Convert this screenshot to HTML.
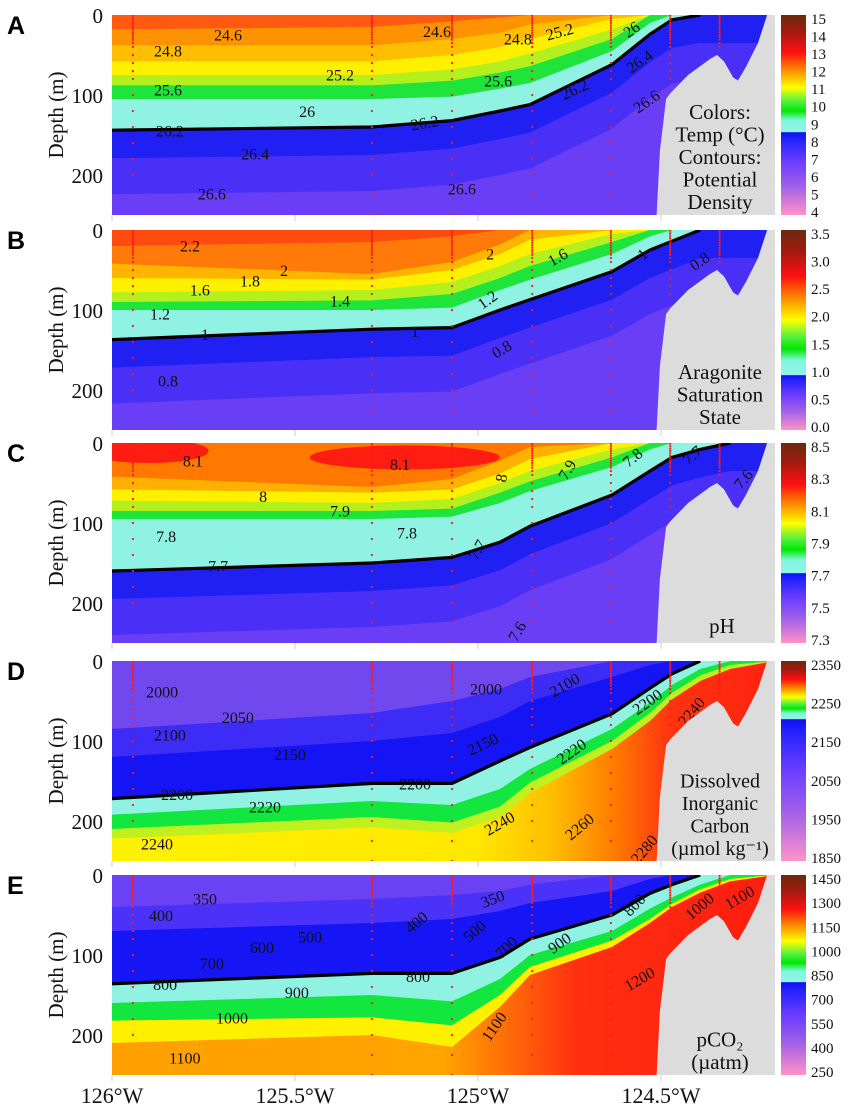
<!DOCTYPE html>
<html><head><meta charset="utf-8">
<style>
html,body{margin:0;padding:0;background:#fff;}
svg{display:block;}
text{font-family:"Liberation Serif",serif;}
</style></head>
<body>
<svg id="chart" width="850" height="1114" viewBox="0 0 850 1114" xmlns="http://www.w3.org/2000/svg">
<defs>
<linearGradient id="deepD" gradientUnits="userSpaceOnUse" x1="112" y1="0" x2="775" y2="0">
<stop offset="0" stop-color="#fff200"/><stop offset="0.55" stop-color="#ffe800"/><stop offset="0.66" stop-color="#ffc000"/><stop offset="0.76" stop-color="#ff7a00"/><stop offset="0.84" stop-color="#ff3410"/><stop offset="1" stop-color="#ff2210"/>
</linearGradient>
<linearGradient id="deepE" gradientUnits="userSpaceOnUse" x1="112" y1="0" x2="775" y2="0">
<stop offset="0" stop-color="#ffa000"/><stop offset="0.5" stop-color="#ffa400"/><stop offset="0.6" stop-color="#ff6a08"/><stop offset="0.7" stop-color="#ff3010"/><stop offset="1" stop-color="#ff1c10"/>
</linearGradient>
</defs>
</svg>
<script>
// ---- data ----
const panelTops=[15,230,443,661,875];
const panelLetters=['A','B','C','D','E'];
const gridLons=[126.000,125.290,125.071,124.940,124.858,124.634,124.530,124.470,124.393,124.311,124.189];
const stationLons=[125.943,125.290,125.071,124.852,124.637,124.475,124.340];
const stationMaxDepth=[200,255,255,225,225,100,40];
const sampleDepths=[1,4,7,10,13,16,19,22,25,28,31,35,40,50,60,70,80,100,120,140,160,180,200,225,250,255];
const xTickLons=[126,125.5,125,124.5];
const xTickLabels=['126°W','125.5°W','125°W','124.5°W'];
const depthTicks=[0,100,200];
const landLons=[124.513,124.503,124.486,124.475,124.426,124.366,124.347,124.328,124.303,124.290,124.268,124.235,124.210,124.150,124.150];
const landDepths=[260,170,105,98,75,55,50,58,78,82,65,35,0,-5,260];

// Panel A: temperature / density
const lineA=[144,140,132,120,112,62,24,6,0,0,0];
const greenA=[105,105,102,92,85,45,10,0,0,0,0];
const ygA=[88,88,82,72,64,30,0,0,0,0,0];
const yelA=[75,75,68,58,48,18,0,0,0,0,0];
const oyA=[58,58,50,40,30,5,0,0,0,0,0];
const orA=[38,38,30,22,12,0,0,0,0,0,0];
const roA=[18,15,8,3,0,0,0,0,0,0,0];
// Panel B: aragonite
const lineB=[137,124,122,100,87,52,25,14,0,0,0];
const greenB=[100,100,97,75,62,30,8,0,0,0,0];
const ygB=[90,88,80,60,45,15,0,0,0,0,0];
const yelB=[78,75,65,45,30,5,0,0,0,0,0];
const oyB=[60,62,50,30,12,0,0,0,0,0,0];
const orB=[42,55,40,18,0,0,0,0,0,0,0];
const roB=[20,15,8,0,0,0,0,0,0,0,0];
// Panel C: pH
const lineC=[160,150,143,124,104,65,35,18,8,0,0];
const greenC=[95,95,92,75,60,30,8,0,0,0,0];
const ygC=[85,85,82,62,48,18,0,0,0,0,0];
const yelC=[72,75,70,50,35,8,0,0,0,0,0];
const oyC=[58,62,58,38,20,0,0,0,0,0,0];
const orC=[42,55,45,22,5,0,0,0,0,0,0];
const redPatchLons=[125.90,125.20];
const redPatchDepths=[10,18];
// Panel D: DIC
const lineD=[172,153,153,125,108,66,34,16,0,0,0];
const midD=[120,100,90,70,50,20,5,0,0,0,0];
const topD=[85,65,50,35,20,0,0,0,0,0,0];
const cyanD=[192,175,180,160,135,85,52,30,10,0,0];
const greenD=[210,195,202,182,152,100,65,40,18,5,0];
const ygD=[222,208,215,195,165,110,75,48,25,10,0];
// Panel E: pCO2
const lineE=[136,123,123,103,80,50,23,12,0,0,0];
const midE=[70,60,55,45,35,20,5,0,0,0,0];
const topE=[40,30,25,20,12,0,0,0,0,0,0];
const cyanE=[160,150,158,130,100,70,42,28,12,0,0];
const greenE=[182,178,188,150,115,82,55,36,18,5,0];
const yelE=[210,200,215,165,125,90,60,40,22,8,0];

// Colorbars
const cbTicksA=['15','14','13','12','11','10','9','8','7','6','5','4'];
const cbTicksB=['3.5','3.0','2.5','2.0','1.5','1.0','0.5','0.0'];
const cbTicksC=['8.5','8.3','8.1','7.9','7.7','7.5','7.3'];
const cbTicksD=['2350','2250','2150','2050','1950','1850'];
const cbTicksE=['1450','1300','1150','1000','850','700','550','400','250'];
const cbBreaks=[0.585,0.725,0.65,0.29,0.535];

// Contour labels [lon, depth, text, angle]
const labelsA=[[125.683,26,'24.6',0],[125.847,46,'24.8',0],[125.847,95,'25.6',0],[125.842,146,'26.2',0],[125.609,175,'26.4',0],[125.727,225,'26.6',0],[125.112,22,'24.6',0],[125.377,76,'25.2',0],[124.891,31,'24.8',0],[124.776,22,'25.2',-15],[125.467,122,'26',0],[124.945,84,'25.6',0],[125.145,136,'26.2',-10],[124.735,94,'26.2',-25],[124.579,19,'26',-35],[124.557,59,'26.4',-35],[124.538,109,'26.6',-35],[125.044,219,'26.6',0]];
const labelsB=[[125.787,21,'2.2',0],[125.530,52,'2',0],[125.623,65,'1.8',0],[125.760,76,'1.6',0],[125.869,106,'1.2',0],[125.377,90,'1.4',0],[125.746,132,'1',0],[125.172,128,'1',0],[124.967,31,'2',0],[124.781,35,'1.6',-30],[124.973,88,'1.2',-35],[124.934,150,'0.8',-30],[125.847,190,'0.8',0],[124.549,31,'1',-40],[124.393,40,'0.8',-35]];
const labelsC=[[125.779,24,'8.1',0],[125.213,28,'8.1',0],[125.587,68,'8',0],[125.377,86,'7.9',0],[125.852,118,'7.8',0],[125.194,114,'7.8',0],[125.710,155,'7.7',0],[125.000,134,'7.7',-60],[124.934,44,'8',-80],[124.754,34,'7.9',-60],[124.576,19,'7.8',-40],[124.413,16,'7.7',-40],[124.273,46,'7.6',-50],[124.891,236,'7.6',-60]];
const labelsD=[[125.863,40,'2000',0],[125.656,72,'2050',0],[125.842,94,'2100',0],[125.514,118,'2150',0],[124.978,36,'2000',0],[124.762,31,'2100',-30],[124.536,52,'2200',-35],[124.415,64,'2240',-50],[124.986,105,'2150',-25],[124.743,114,'2220',-35],[125.822,168,'2200',0],[125.172,155,'2200',0],[125.582,184,'2220',0],[125.877,230,'2240',0],[124.940,204,'2240',-30],[124.721,208,'2260',-40],[124.544,236,'2280',-50]];
const labelsE=[[125.746,31,'350',0],[125.866,52,'400',0],[125.459,79,'500',0],[125.590,92,'600',0],[125.727,112,'700',0],[125.855,138,'800',0],[125.164,128,'800',0],[125.495,148,'900',0],[125.672,180,'1000',0],[125.801,230,'1100',0],[125.167,60,'400',-40],[124.959,31,'350',-20],[125.008,71,'500',-40],[124.921,91,'700',-45],[124.776,86,'900',-35],[124.571,38,'800',-45],[124.393,40,'1000',-40],[124.284,29,'1100',-30],[124.954,190,'1100',-55],[124.557,131,'1200',-30]];

const landTextA=['Colors:','Temp (°C)','Contours:','Potential','Density'];
const landTextB=['Aragonite','Saturation','State'];
const landTextC=['pH'];
const landTextD=['Dissolved','Inorganic','Carbon','(µmol kg⁻¹)'];
const landTextE=['pCO₂','(µatm)'];

// ---- drawing ----
const NS='http://www.w3.org/2000/svg';
const svg=document.getElementById('chart');
const defs=svg.querySelector('defs');
function mk(tag,attrs,parent){const e=document.createElementNS(NS,tag);for(const k in attrs)e.setAttribute(k,attrs[k]);(parent||svg).appendChild(e);return e;}
function xs(lon){return 112+(126-lon)*366;}
function ys(p,d){return panelTops[p]+d*0.8;}
function fwd(p,arr){return gridLons.map((l,i)=>xs(l).toFixed(1)+','+ys(p,Math.max(arr[i],-5)).toFixed(1));}
function surfacePoly(p,arr){const pts=fwd(p,arr);return pts.join(' ')+' '+xs(gridLons[gridLons.length-1])+','+ys(p,-5)+' '+xs(gridLons[0])+','+ys(p,-5);}
function bandPoly(p,upper,lower){return fwd(p,upper).join(' ')+' '+fwd(p,lower).reverse().join(' ');}

const warmStops=[[0,'#6b2a0e'],[0.15,'#a41a10'],[0.32,'#ff1010'],[0.47,'#ff8a00'],[0.62,'#ffff00'],[0.74,'#50f040'],[0.82,'#00e800'],[0.9,'#80f6de'],[1,'#92f4e8']];
const coolStops=[[0,'#1010f0'],[0.08,'#2222ff'],[0.35,'#6a3cff'],[0.65,'#a060e8'],[1,'#ff92c8']];

const allLabels=[labelsA,labelsB,labelsC,labelsD,labelsE];
const allLines=[lineA,lineB,lineC,lineD,lineE];
const allCbTicks=[cbTicksA,cbTicksB,cbTicksC,cbTicksD,cbTicksE];
const allLandText=[landTextA,landTextB,landTextC,landTextD,landTextE];
const upperSets=[
 [[lineA,'#8ff2e2'],[greenA,'#1ee43c'],[ygA,'#b4f01e'],[yelA,'#fff000'],[oyA,'#ffbe00'],[orA,'#ff9200'],[roA,'#ff5a12']],
 [[lineB,'#8ff2e2'],[greenB,'#1ee43c'],[ygB,'#b4f01e'],[yelB,'#fff000'],[oyB,'#ffb400'],[orB,'#ff7a08'],[roB,'#ff4a10']],
 [[lineC,'#8ff2e2'],[greenC,'#1ee43c'],[ygC,'#b4f01e'],[yelC,'#fff000'],[oyC,'#ffb000'],[orC,'#ff7800']],
 [[lineD,'#1414f4'],[midD,'#3c2cf6'],[topD,'#7048ee']],
 [[lineE,'#1515f5'],[midE,'#4a32f8'],[topE,'#6a42f4']]
];
const lowerSets=[null,null,null,
 [[ygD,'#c0f020'],[greenD,'#14e640'],[cyanD,'#8ff2e2']],
 [[yelE,'#fff000'],[greenE,'#14e640'],[cyanE,'#8ff2e2']]
];

for(let p=0;p<5;p++){
  const top=panelTops[p];
  const g=mk('g',{});
  
  
  const cp=mk('clipPath',{id:'clip'+p},defs);
  mk('rect',{x:112,y:top,width:663,height:200},cp);
  const plot=mk('g',{'clip-path':'url(#clip'+p+')'},g);
  
  
  if(p<3){
    const base=mk('rect',{x:112,y:top,width:663,height:200,fill:'#6a3ef4'},plot);
    
    
    const ln=allLines[p];
    const b2=mk('polygon',{points:bandPoly(p,ln,ln.map(d=>d+80)),fill:'#4a30f6'},plot);
    
    
    const b3=mk('polygon',{points:bandPoly(p,ln,ln.map(d=>d+35)),fill:'#2020f2'},plot);
    
    
  } else {
    const base=mk('rect',{x:112,y:top,width:663,height:200,fill:p===3?'url(#deepD)':'url(#deepE)'},plot);
    
    
    lowerSets[p].forEach(([arr,col])=>{
      const b=mk('polygon',{points:bandPoly(p,allLines[p],arr),fill:col},plot);
      
      
    });
  }
  upperSets[p].forEach(([arr,col])=>{
    const b=mk('polygon',{points:surfacePoly(p,arr),fill:col},plot);
    
    
  });
  if(p===2){
    redPatchLons.forEach((l,i)=>{
      const e=mk('ellipse',{cx:xs(l),cy:ys(p,redPatchDepths[i]),rx:i===0?60:95,ry:12,fill:'#ff1c10'},plot);
      
      
    });
  }
  const ln=allLines[p];let pts=[];
  for(let i=0;i<ln.length;i++){pts.push(xs(gridLons[i]).toFixed(1)+','+ys(p,ln[i]).toFixed(1));if(ln[i]<=0)break;}
  const bl=mk('polyline',{points:pts.join(' '),fill:'none',stroke:'#000','stroke-width':3.2,'stroke-linejoin':'round'},plot);
  
  
  stationLons.forEach((l,si)=>{
    sampleDepths.forEach(d=>{
      if(d>stationMaxDepth[si])return;
      const c=mk('circle',{cx:xs(l).toFixed(1),cy:ys(p,d).toFixed(1),r:1.1,fill:'#ff1a1a'},plot);
      
      
    });
  });
  allLabels[p].forEach(([l,d,t,a])=>{
    const x=xs(l),y=ys(p,d);
    const tx=mk('text',{x:x,y:y,'font-size':16,'text-anchor':'middle','dominant-baseline':'central',fill:'#111',transform:'rotate('+a+' '+x+' '+y+')'},plot);
    tx.textContent=t;
    
    
  });
  const lp=landLons.map((l,i)=>xs(l).toFixed(1)+','+ys(p,landDepths[i]).toFixed(1)).join(' ');
  const land=mk('polygon',{points:lp,fill:'#dcdcdc'},plot);
  
  
  const lt=allLandText[p];
  const lineH=22.5;
  const startY= p===2 ? top+190 : top+200-6-(lt.length-1)*lineH;
  lt.forEach((s,i)=>{
    const t=mk('text',{x:p===2?722:720,y:startY+i*lineH,'font-size':p===3?20:21,'text-anchor':'middle',fill:'#111'},g);
    t.textContent=s;
    
    
  });
  xTickLons.forEach(l=>{
    const tk=mk('line',{x1:xs(l),x2:xs(l),y1:top+200,y2:top+206,stroke:'#cfcfcf','stroke-width':1},g);
    
    
  });
  depthTicks.forEach(d=>{
    const t=mk('text',{x:103,y:ys(p,d)+8,'font-size':21,'text-anchor':'end',fill:'#111'},g);
    t.textContent=String(d);
    
    
  });
  const yt=mk('text',{x:63,y:top+100,'font-size':21,'text-anchor':'middle',fill:'#111',transform:'rotate(-90 63 '+(top+100)+')'},g);
  yt.textContent='Depth (m)';
  
  
  const pl=mk('text',{x:7,y:top+19,'font-size':25,'font-weight':'bold',fill:'#000',style:'font-family:"Liberation Sans",sans-serif'},g);
  pl.textContent=panelLetters[p];
  
  
  const grad=mk('linearGradient',{id:'cb'+p,x1:0,y1:0,x2:0,y2:1},defs);
  const br=cbBreaks[p];
  warmStops.forEach(([o,c])=>mk('stop',{offset:(o*br).toFixed(4),'stop-color':c},grad));
  coolStops.forEach(([o,c])=>mk('stop',{offset:(br+0.002+o*(1-br-0.002)).toFixed(4),'stop-color':c},grad));
  const cb=mk('rect',{x:781,y:top,width:25,height:200,fill:'url(#cb'+p+')'},g);
  
  
  const ticks=allCbTicks[p];
  ticks.forEach((s,i)=>{
    const yy=top+5+i*(193/(ticks.length-1));
    const t=mk('text',{x:811,y:yy,'font-size':15,'dominant-baseline':'central',fill:'#111'},g);
    t.textContent=s;
    
    
  });
}
xTickLons.forEach((l,i)=>{
  const t=mk('text',{x:xs(l),y:1103,'font-size':22,'text-anchor':'middle',fill:'#111'});
  t.textContent=xTickLabels[i];
  
  
});
</script>
</body></html>
